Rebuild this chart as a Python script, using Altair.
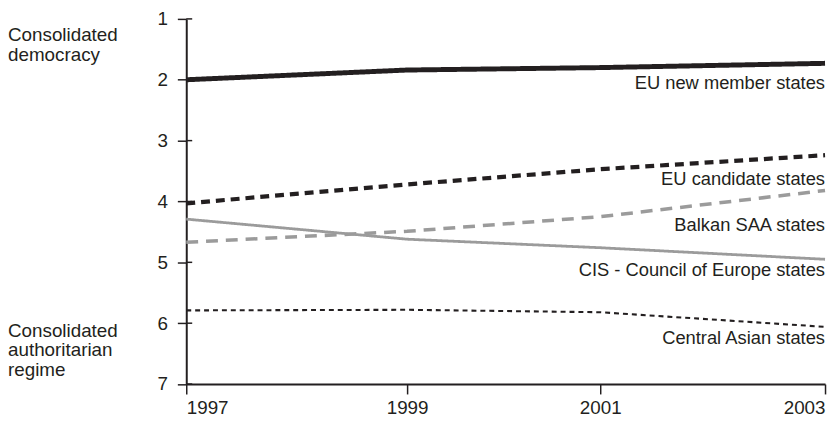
import altair as alt
import pandas as pd

# ---- data ----
years = [1997, 1999, 2001, 2003]
series_names = [
    "EU new member states",
    "EU candidate states",
    "Balkan SAA states",
    "CIS - Council of Europe states",
    "Central Asian states",
]
eu_new = [2.00, 1.84, 1.80, 1.73]
eu_candidate = [4.03, 3.72, 3.47, 3.24]
balkan_saa = [4.67, 4.49, 4.25, 3.82]
cis_coe = [4.29, 4.62, 4.76, 4.95]
central_asia = [5.79, 5.78, 5.82, 6.06]
label_y = [2.05, 3.63, 4.38, 5.12, 6.24]

y_ticks = [1, 2, 3, 4, 5, 6, 7]
x_ticks = [1997, 1999, 2001, 2003]

annot_text = ["Consolidated", "democracy", "Consolidated", "authoritarian", "regime"]
annot_y = [1.37, 1.69, 6.22, 6.545, 6.87]

# ---- styles ----
INK = "#231f20"
GREY = "#9b9b9b"
colors = [INK, INK, GREY, GREY, INK]
widths = [5, 2.1, 4, 3.8, 2.8]
dashes = [[1, 0], [9, 6], [12, 8], [1, 0], [5, 4]]
FONT = "Liberation Sans"

W, H = 645, 368.7

all_vals = [eu_new, eu_candidate, balkan_saa, cis_coe, central_asia]
rows = []
for name, vals in zip(series_names, all_vals):
    for yr, v in zip(years, vals):
        rows.append({"series": name, "year": yr, "score": v})
df = pd.DataFrame(rows)

labels_df = pd.DataFrame({"series": series_names, "year": [years[-1]] * 5, "ly": label_y})
ticks_df = pd.DataFrame({"v": y_ticks})
annot_df = pd.DataFrame({"t": annot_text, "ay": annot_y})

xscale = alt.Scale(domain=[1997, 1999, 2001, 2003], range=[0, 223, 418, 645], nice=False, zero=False)
yscale = alt.Scale(domain=[1, 7], reverse=True, nice=False, zero=False)

x_axis = alt.Axis(values=x_ticks, format="d", title=None, grid=False, labelFlush=True,
                  labelFont=FONT, labelFontSize=19, labelColor=INK, labelPadding=5,
                  domainColor=INK, domainWidth=2, tickColor=INK, tickWidth=1.5, tickSize=10)
y_axis = alt.Axis(values=y_ticks, format="d", title=None, grid=False,
                  labelFont=FONT, labelFontSize=19, labelColor=INK, labelPadding=10,
                  domainColor=INK, domainWidth=2, tickColor=INK, tickWidth=1.5, tickSize=9)

lines = alt.Chart(df).mark_line().encode(
    x=alt.X("year:Q", scale=xscale, axis=x_axis),
    y=alt.Y("score:Q", scale=yscale, axis=y_axis),
    detail="series:N",
    color=alt.Color("series:N", scale=alt.Scale(domain=series_names, range=colors), legend=None),
    strokeWidth=alt.StrokeWidth("series:N", scale=alt.Scale(domain=series_names, range=widths), legend=None),
    strokeDash=alt.StrokeDash("series:N", scale=alt.Scale(domain=series_names, range=dashes), legend=None),
)

inner_ticks = alt.Chart(ticks_df).mark_rule(color=INK, strokeWidth=1.5).encode(
    y=alt.Y("v:Q", scale=yscale),
    x=alt.value(0),
    x2=alt.value(6),
)

labels = alt.Chart(labels_df).mark_text(align="right", baseline="middle", font=FONT,
                                         fontSize=18.5, color=INK).encode(
    x=alt.X("year:Q", scale=xscale),
    y=alt.Y("ly:Q", scale=yscale),
    text="series:N",
)

annots = alt.Chart(annot_df).mark_text(align="left", baseline="alphabetic", font=FONT,
                                        fontSize=19, color=INK).encode(
    x=alt.value(-180),
    y=alt.Y("ay:Q", scale=yscale),
    text="t:N",
)

chart = alt.layer(lines, inner_ticks, labels, annots).properties(
    width=W, height=H,
    autosize=alt.AutoSizeParams(type="none"),
    padding={"left": 180, "top": 9, "right": 3, "bottom": 36},
).configure_view(stroke=None)

chart.save("out.html", embed_options={"renderer": "svg", "actions": False})
